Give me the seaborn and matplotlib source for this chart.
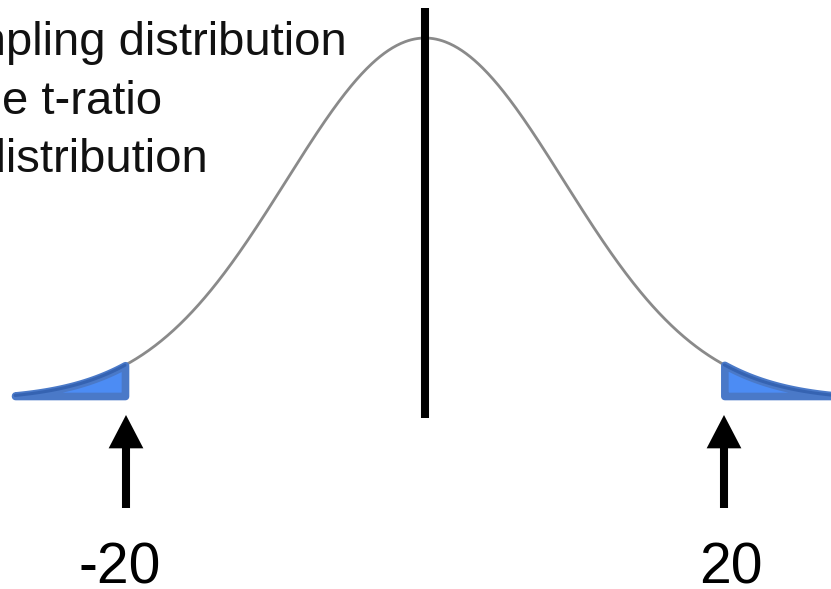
import numpy as np
import pandas as pd
import matplotlib
matplotlib.use("Agg")
import matplotlib.pyplot as plt
import seaborn as sns

# ---- data ----
cutoffs = [-20, 20]
cutoff_labels = ["-20", "20"]
caption_lines = ["Sampling distribution", "of the t-ratio", "a t distribution"]
curve_center = 0.0
curve_scale = 9.27
curve_start = -27.42
curve_end = 28.0

# ---- layout (pixels of the 831x589 canvas) ----
W, H = 831, 589
PX_PER_UNIT = 14.95
X_CENTER_PX = 425
BASE_PX = 400
PEAK_PX = 362
caption_x_px = [-91, -90, -86]
caption_base_px = [55, 114, 172]

sns.set_style("white")
plt.rcParams["font.family"] = ["Liberation Sans", "DejaVu Sans"]

fig = plt.figure(figsize=(W / 100, H / 100), dpi=100)
ax = fig.add_axes([0, 0, 1, 1])
ax.set_xlim(-X_CENTER_PX / PX_PER_UNIT, (W - X_CENTER_PX) / PX_PER_UNIT)
ax.set_ylim((BASE_PX - H) / PEAK_PX, BASE_PX / PEAK_PX)
ax.axis("off")

def px_to_h(py):
    return (BASE_PX - py) / PEAK_PX

t = np.linspace(curve_start, curve_end, 800)
dens = np.exp(-0.5 * ((t - curve_center) / curve_scale) ** 2)
df = pd.DataFrame({"t": t, "density": dens})

sns.lineplot(data=df, x="t", y="density", color="#8a8a8a", lw=2.0, ax=ax,
             sort=False, zorder=2)

# shaded tails
fill_base = px_to_h(396)
lo, hi = cutoffs
for mask in (df["t"] <= lo, df["t"] >= hi):
    sub = df[mask]
    ax.fill_between(sub["t"], fill_base, sub["density"], facecolor="#4c8cf4",
                    edgecolor="#4a79c8", lw=5.5, zorder=3)
    sns.lineplot(data=sub, x="t", y="density", color="#3563b2", lw=2.2,
                 ax=ax, sort=False, zorder=4)

# vertical line at the centre
ax.plot([curve_center, curve_center], [px_to_h(8), px_to_h(418)],
        color="black", lw=5.8, solid_capstyle="butt", zorder=5)

# arrows and labels
for c, lab in zip(cutoffs, cutoff_labels):
    ax.annotate("", xy=(c, px_to_h(415)), xytext=(c, px_to_h(508)),
                arrowprops=dict(facecolor="black", edgecolor="none", width=5.8,
                                headwidth=25, headlength=24, shrink=0))
    ax.text(c + 0.43 * np.sign(c), px_to_h(583), lab, ha="center",
            va="baseline", fontsize=41, color="black")

# caption (clipped by the left edge)
for line, xp, yp in zip(caption_lines, caption_x_px, caption_base_px):
    fig.text(xp / W, 1 - yp / H, line, ha="left", va="baseline",
             fontsize=34, color="#111111")

fig.savefig("out.png", dpi=100)
